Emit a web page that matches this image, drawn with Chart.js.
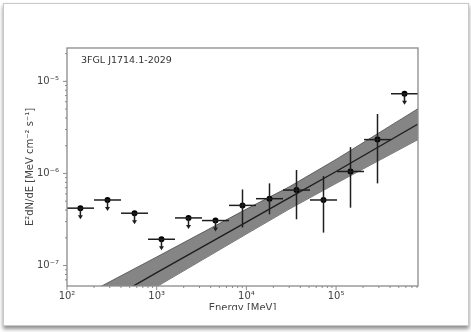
<!DOCTYPE html>
<html>
<head>
<meta charset="utf-8">
<script src="https://cdn.jsdelivr.net/npm/chart.js@4/dist/chart.umd.min.js"></script>
<style>
  html, body { margin: 0; padding: 0; background: #fff; }
  body { width: 471px; height: 332px; position: relative; overflow: hidden; }
  .card {
    position: absolute; left: 3px; top: 3px; width: 464px; height: 321px;
    background: #fff; border: 1px solid #c8c8c8;
    box-shadow: 0 3px 4px rgba(0,0,0,0.45);
  }
  .clip { position: absolute; left: 0; top: 0; width: 471px; height: 310px; overflow: hidden; }
  canvas { position: absolute; left: 0; top: 0; filter: blur(0.4px); }
</style>
</head>
<body>
<div class="card"></div>
<div class="clip"><canvas id="sed" width="471" height="332"></canvas></div>
<script>
// energy bins (MeV)
const binLo = [100, 200, 400, 800, 1600, 3200, 6400, 12800, 25600, 51200, 102400, 204800, 409600];
const binHi = [200, 400, 800, 1600, 3200, 6400, 12800, 25600, 51200, 102400, 204800, 409600, 819200];
const energy = [141, 283, 566, 1131, 2263, 4525, 9051, 18102, 36204, 72408, 144815, 289631, 579262];
// E^2 dN/dE values, MeV cm^-2 s^-1
const flux = [4.2e-7, 5.15e-7, 3.7e-7, 1.93e-7, 3.29e-7, 3.08e-7, 4.5e-7, 5.32e-7, 6.6e-7, 5.15e-7, 1.05e-6, 2.33e-6, 7.33e-6];
const fluxLo = [null, null, null, null, null, null, 2.59e-7, 3.6e-7, 3.18e-7, 2.28e-7, 4.25e-7, 7.8e-7, null];
const fluxHi = [null, null, null, null, null, null, 6.7e-7, 7.8e-7, 1.09e-6, 9.36e-7, 1.93e-6, 4.42e-6, null];
const upperLimit = [true, true, true, true, true, true, false, false, false, false, false, false, true];

// fitted model and its error band
const modelE = [100, 1000, 10000, 30000, 100000, 819200];
const modelFlux = [2.33e-8, 8.36e-8, 2.96e-7, 5.42e-7, 1.05e-6, 3.44e-6];
const bandHi = [3.8e-8, 1.24e-7, 4.1e-7, 7.15e-7, 1.42e-6, 5.05e-6];
const bandLo = [1.55e-8, 5.9e-8, 2.2e-7, 4.1e-7, 7.8e-7, 2.33e-6];

// axes
const xMin = 100, xMax = 819200;
const yMin = 6.2e-8, yMax = 2.3e-5;
const xMajor = [1e2, 1e3, 1e4, 1e5];
const xLabels = ["10²", "10³", "10⁴", "10⁵"];
const yMajor = [1e-7, 1e-6, 1e-5];
const yLabels = ["10⁻⁷", "10⁻⁶", "10⁻⁵"];
const minorSteps = [2, 3, 4, 5, 6, 7, 8, 9];
const sourceName = "3FGL J1714.1-2029";

const FONT = "'DejaVu Sans', sans-serif";

function logTicks(majors, lo, hi) {
  const out = [];
  const first = majors[0] / 10;
  for (let d = first; d <= hi; d *= 10) {
    const m = Math.round(Math.log10(d));
    const dec = Math.pow(10, m);
    if (dec >= lo && dec <= hi) out.push({ value: dec, major: true });
    minorSteps.forEach(s => {
      const v = s * dec;
      if (v >= lo && v <= hi) out.push({ value: v, major: false });
    });
  }
  return out.sort((a, b) => a.value - b.value);
}

function pts(xs, ys) {
  return xs.map((x, i) => ({ x: x, y: ys[i] }));
}

const errorBars = {
  id: "errorBars",
  afterDatasetsDraw(chart) {
    const xs = chart.scales.x, ys = chart.scales.y, ctx = chart.ctx;
    ctx.save();
    ctx.strokeStyle = "#1e1e1e";
    ctx.fillStyle = "#1e1e1e";
    ctx.lineWidth = 1.5;
    energy.forEach((e, i) => {
      const px = xs.getPixelForValue(e);
      const py = ys.getPixelForValue(flux[i]);
      ctx.beginPath();
      ctx.moveTo(xs.getPixelForValue(binLo[i]), py);
      ctx.lineTo(xs.getPixelForValue(binHi[i]), py);
      ctx.stroke();
      if (upperLimit[i]) {
        ctx.beginPath();
        ctx.moveTo(px, py);
        ctx.lineTo(px, py + 8);
        ctx.stroke();
        ctx.beginPath();
        ctx.moveTo(px - 2.5, py + 7);
        ctx.lineTo(px + 2.5, py + 7);
        ctx.lineTo(px, py + 11);
        ctx.closePath();
        ctx.fill();
      } else {
        ctx.beginPath();
        ctx.moveTo(px, ys.getPixelForValue(fluxHi[i]));
        ctx.lineTo(px, ys.getPixelForValue(fluxLo[i]));
        ctx.stroke();
      }
    });
    ctx.restore();
  }
};

const frame = {
  id: "frame",
  afterDraw(chart) {
    const a = chart.chartArea, ctx = chart.ctx;
    const xs = chart.scales.x, ys = chart.scales.y;
    ctx.save();
    ctx.strokeStyle = "#8a8a8a";
    ctx.lineWidth = 1.3;
    ctx.strokeRect(a.left, a.top, a.right - a.left, a.bottom - a.top);
    ctx.lineWidth = 1;
    xs.ticks.forEach(t => {
      const px = xs.getPixelForValue(t.value);
      ctx.beginPath();
      ctx.moveTo(px, a.bottom);
      ctx.lineTo(px, a.bottom + (t.major ? 4 : 2));
      ctx.stroke();
    });
    ys.ticks.forEach(t => {
      const py = ys.getPixelForValue(t.value);
      ctx.beginPath();
      ctx.moveTo(a.left, py);
      ctx.lineTo(a.left - (t.major ? 4 : 2), py);
      ctx.stroke();
    });
    ctx.fillStyle = "#333";
    ctx.font = "9.5px " + FONT;
    ctx.textBaseline = "middle";
    ctx.fillText(sourceName, a.left + 14, a.top + 13);
    ctx.restore();
  }
};

new Chart(document.getElementById("sed"), {
  type: "scatter",
  data: {
    datasets: [
      {
        label: "points",
        data: pts(energy, flux),
        pointRadius: 3,
        pointBackgroundColor: "#000",
        pointBorderWidth: 0,
        order: 0
      },
      {
        label: "model",
        data: pts(modelE, modelFlux),
        showLine: true,
        borderColor: "#1e1e1e",
        borderWidth: 1.4,
        pointRadius: 0,
        order: 1
      },
      {
        label: "band high",
        data: pts(modelE, bandHi),
        showLine: true,
        borderColor: "#4a4a4a",
        borderWidth: 0.8,
        pointRadius: 0,
        fill: "+1",
        backgroundColor: "#858585",
        order: 2
      },
      {
        label: "band low",
        data: pts(modelE, bandLo),
        showLine: true,
        borderColor: "#4a4a4a",
        borderWidth: 0.8,
        pointRadius: 0,
        order: 3
      }
    ]
  },
  plugins: [errorBars, frame],
  options: {
    responsive: false,
    animation: false,
    devicePixelRatio: 1,
    layout: { padding: { top: 48, right: 53, bottom: 0, left: 0 } },
    plugins: { legend: { display: false }, tooltip: { enabled: false } },
    scales: {
      x: {
        type: "logarithmic",
        min: xMin,
        max: xMax,
        afterBuildTicks: s => { s.ticks = logTicks(xMajor, xMin, xMax); },
        afterFit: s => { s.height = 46; },
        grid: { display: false, drawTicks: false },
        border: { display: false },
        ticks: {
          autoSkip: false,
          maxRotation: 0,
          padding: 4,
          color: "#444",
          font: { family: FONT, size: 10 },
          callback: v => {
            const k = xMajor.indexOf(v);
            return k >= 0 ? xLabels[k] : "";
          }
        },
        title: {
          display: true,
          text: "Energy [MeV]",
          color: "#444",
          font: { family: FONT, size: 10 },
          padding: { top: 0, bottom: 18 }
        }
      },
      y: {
        type: "logarithmic",
        min: yMin,
        max: yMax,
        afterBuildTicks: s => { s.ticks = logTicks(yMajor, yMin, yMax); },
        afterFit: s => { s.width = 67; },
        grid: { display: false, drawTicks: false },
        border: { display: false },
        ticks: {
          autoSkip: false,
          padding: 8,
          color: "#444",
          font: { family: FONT, size: 10 },
          callback: v => {
            const k = yMajor.findIndex(m => Math.abs(m - v) / m < 1e-6);
            return k >= 0 ? yLabels[k] : "";
          }
        },
        title: {
          display: true,
          text: "E²dN/dE [MeV cm⁻² s⁻¹]",
          color: "#444",
          font: { family: FONT, size: 10 },
          padding: { top: 24, bottom: 0 }
        }
      }
    }
  }
});
</script>
</body>
</html>
